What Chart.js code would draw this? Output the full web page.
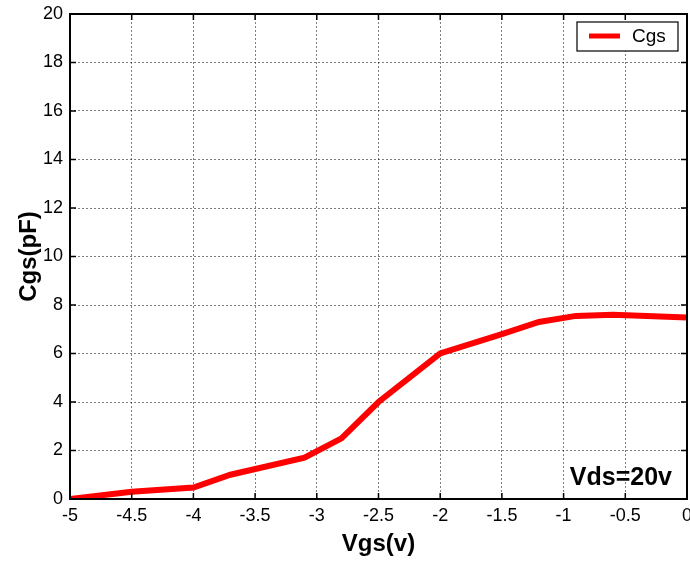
<!DOCTYPE html>
<html lang="en">
<head>
    <meta charset="UTF-8">
    <title>Cgs vs Vgs</title>
    <script src="https://cdn.jsdelivr.net/npm/chart.js"></script>
    <style>
        html, body {
            margin: 0;
            padding: 0;
            background: white;
            overflow: hidden;
        }
        .chart-container {
            width: 698px;
            height: 561px;
        }
    </style>
</head>
<body>
    <div class="chart-container">
        <canvas id="cgsChart"></canvas>
    </div>
    <script>
        // values
        const vgs = [-5, -4.5, -4, -3.7, -3.1, -2.8, -2.5, -2, -1.5, -1.2, -0.9, -0.6, 0];
        const cgs = [0, 0.3, 0.47, 1.0, 1.7, 2.5, 4.0, 6.0, 6.8, 7.3, 7.55, 7.6, 7.48];
        const xTicks = [-5, -4.5, -4, -3.5, -3, -2.5, -2, -1.5, -1, -0.5, 0];
        const yTicks = [0, 2, 4, 6, 8, 10, 12, 14, 16, 18, 20];
        const seriesName = 'Cgs';
        const note = 'Vds=20v';

        // box, inward ticks, legend and the Vds note
        const frame = {
            id: 'frame',
            afterDraw(chart) {
                const ctx = chart.ctx;
                const a = chart.chartArea;
                const xs = chart.scales.x, ys = chart.scales.y;
                ctx.save();
                ctx.strokeStyle = '#000';
                ctx.lineWidth = 2;
                ctx.strokeRect(a.left, a.top, a.right - a.left, a.bottom - a.top);
                ctx.lineWidth = 1.5;
                ctx.beginPath();
                xTicks.forEach(v => {
                    const px = xs.getPixelForValue(v);
                    ctx.moveTo(px, a.bottom); ctx.lineTo(px, a.bottom - 6);
                    ctx.moveTo(px, a.top); ctx.lineTo(px, a.top + 6);
                });
                yTicks.forEach(v => {
                    const py = ys.getPixelForValue(v);
                    ctx.moveTo(a.left, py); ctx.lineTo(a.left + 6, py);
                    ctx.moveTo(a.right, py); ctx.lineTo(a.right - 6, py);
                });
                ctx.stroke();

                // legend box
                const lx = a.right - 110, ly = a.top + 8;
                ctx.fillStyle = '#fff';
                ctx.fillRect(lx, ly, 101, 29);
                ctx.lineWidth = 1.2;
                ctx.strokeRect(lx, ly, 101, 29);
                ctx.strokeStyle = '#ff0000';
                ctx.lineWidth = 5;
                ctx.beginPath();
                ctx.moveTo(lx + 12, ly + 14);
                ctx.lineTo(lx + 43, ly + 14);
                ctx.stroke();
                ctx.fillStyle = '#000';
                ctx.font = '19px "Liberation Sans", Arial, sans-serif';
                ctx.textBaseline = 'middle';
                ctx.fillText(seriesName, lx + 55, ly + 15);

                // Vds label
                ctx.font = 'bold 25px "Liberation Sans", Arial, sans-serif';
                ctx.textBaseline = 'alphabetic';
                ctx.textAlign = 'right';
                ctx.fillText(note, a.right - 15, a.bottom - 14);
                ctx.restore();
            }
        };

        const ctx = document.getElementById('cgsChart').getContext('2d');
        new Chart(ctx, {
            type: 'scatter',
            data: {
                datasets: [{
                    label: seriesName,
                    data: vgs.map((v, i) => ({ x: v, y: cgs[i] })),
                    showLine: true,
                    borderColor: '#ff0000',
                    borderWidth: 6,
                    pointRadius: 0,
                    borderJoinStyle: 'miter',
                    tension: 0
                }]
            },
            options: {
                responsive: true,
                maintainAspectRatio: false,
                animation: false,
                layout: { padding: { left: 14, top: 14, right: 0, bottom: 0 } },
                plugins: {
                    legend: { display: false },
                    tooltip: { enabled: false }
                },
                scales: {
                    x: {
                        type: 'linear',
                        min: -5,
                        max: 0,
                        afterBuildTicks: s => { s.ticks = xTicks.map(v => ({ value: v })); },
                        afterFit: s => { s.height = 62; },
                        grid: {
                            color: 'rgba(0,0,0,0.5)',
                            lineWidth: 1,
                            drawTicks: false
                        },
                        border: { display: false, dash: [2, 2] },
                        ticks: {
                            color: '#000',
                            padding: 6,
                            maxRotation: 0,
                            callback: v => String(v),
                            font: { family: '"Liberation Sans", Arial, sans-serif', size: 18 }
                        },
                        title: {
                            display: true,
                            text: 'Vgs(v)',
                            color: '#000',
                            padding: { top: 0, bottom: 2 },
                            font: { family: '"Liberation Sans", Arial, sans-serif', size: 24, weight: 'bold' }
                        }
                    },
                    y: {
                        min: 0,
                        max: 20,
                        afterBuildTicks: s => { s.ticks = yTicks.map(v => ({ value: v })); },
                        afterFit: s => { s.width = 56; s.paddingTop = 0; s.paddingBottom = 0; },
                        grid: {
                            color: 'rgba(0,0,0,0.5)',
                            lineWidth: 1,
                            drawTicks: false
                        },
                        border: { display: false, dash: [2, 2] },
                        ticks: {
                            color: '#000',
                            padding: 7,
                            callback: v => String(v),
                            font: { family: '"Liberation Sans", Arial, sans-serif', size: 18 }
                        },
                        title: {
                            display: true,
                            text: 'Cgs(pF)',
                            color: '#000',
                            padding: { top: 1, bottom: 0 },
                            font: { family: '"Liberation Sans", Arial, sans-serif', size: 24, weight: 'bold' }
                        }
                    }
                }
            },
            plugins: [frame]
        });
    </script>
</body>
</html>
